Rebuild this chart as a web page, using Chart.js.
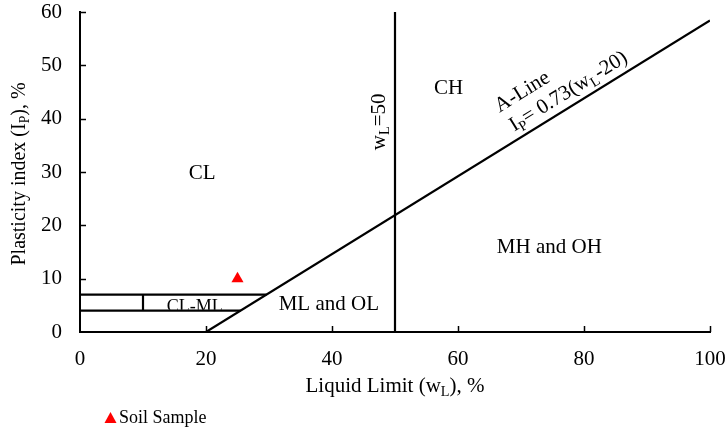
<!DOCTYPE html>
<html>
<head>
<meta charset="utf-8">
<script src="https://cdn.jsdelivr.net/npm/chart.js@4.4.1/dist/chart.umd.min.js"></script>
<style>
  html, body { margin: 0; padding: 0; background: #fff; }
</style>
</head>
<body>
<canvas id="myChart" width="725" height="429"></canvas>
<script>
// plasticity chart data
const aLineX = [20, 100];
const aLineY = [0, 58.4];
const wl50X = [50, 50];
const wl50Y = [0, 60];
const clmlTopX = [0, 29.6];
const clmlTopY = [7, 7];
const clmlBottomX = [0, 25.5];
const clmlBottomY = [4, 4];
const clmlDivX = [10, 10];
const clmlDivY = [4, 7];
const sampleLL = [25];
const samplePI = [10];
const xTickValues = [0, 20, 40, 60, 80, 100];
const yTickValues = [0, 10, 20, 30, 40, 50, 60];

const FONT = '"Liberation Serif", "Times New Roman", serif';

function pts(xs, ys) {
    return xs.map((x, i) => ({ x: x, y: ys[i] }));
}

function lineSet(label, xs, ys) {
    return {
        label: label,
        data: pts(xs, ys),
        showLine: true,
        borderColor: '#000',
        borderWidth: 2.2,
        pointRadius: 0,
        fill: false
    };
}

// text with subscripts: parts = [[text, isSub], ...]
function drawRich(ctx, parts, x, y, size, angle) {
    ctx.save();
    ctx.translate(x, y);
    ctx.rotate(angle || 0);
    let w = 0;
    parts.forEach(p => {
        ctx.font = (p[1] ? size * 0.68 : size) + 'px ' + FONT;
        w += ctx.measureText(p[0]).width;
    });
    let cx = -w / 2;
    ctx.fillStyle = '#000';
    ctx.textBaseline = 'alphabetic';
    ctx.textAlign = 'left';
    parts.forEach(p => {
        ctx.font = (p[1] ? size * 0.68 : size) + 'px ' + FONT;
        ctx.fillText(p[0], cx, p[1] ? size * 0.2 : 0);
        cx += ctx.measureText(p[0]).width;
    });
    ctx.restore();
}

// zone labels, placed in data units (baseline centre)
const zoneLabels = [
    { parts: [['CL', 0]], x: 19.4, y: 28.6, size: 21 },
    { parts: [['CH', 0]], x: 58.5, y: 44.6, size: 21 },
    { parts: [['MH and OH', 0]], x: 74.5, y: 14.9, size: 21 },
    { parts: [['ML and OL', 0]], x: 39.5, y: 4.2, size: 21 },
    { parts: [['CL-ML', 0]], x: 18.2, y: 3.8, size: 18, clipTo: 4 },
    { parts: [['w', 0], ['L', 1], ['=50', 0]], x: 48.4, y: 39.4, size: 21, rot: 'vertical' },
    { parts: [['A-Line', 0]], x: 70.7, y: 44.1, size: 21, rot: 'aline' },
    { parts: [['I', 0], ['P', 1], ['= 0.73(w', 0], ['L', 1], ['-20)', 0]], x: 78.0, y: 44.2, size: 21, rot: 'aline' }
];

const annotate = {
    id: 'annotate',
    afterDraw(chart) {
        const ctx = chart.ctx;
        const xs = chart.scales.x;
        const ys = chart.scales.y;
        const area = chart.chartArea;

        // inward tick marks
        ctx.save();
        ctx.strokeStyle = '#000';
        ctx.lineWidth = 1.5;
        xTickValues.forEach(v => {
            if (v === xs.min) return;
            const px = Math.round(xs.getPixelForValue(v)) + 0.5;
            ctx.beginPath();
            ctx.moveTo(px, area.bottom);
            ctx.lineTo(px, area.bottom - 6);
            ctx.stroke();
        });
        yTickValues.forEach(v => {
            if (v === ys.min) return;
            const py = Math.round(ys.getPixelForValue(v)) + 0.5;
            ctx.beginPath();
            ctx.moveTo(area.left, py);
            ctx.lineTo(area.left + 6, py);
            ctx.stroke();
        });
        ctx.restore();

        const slope = Math.atan2(
            ys.getPixelForValue(aLineY[1]) - ys.getPixelForValue(aLineY[0]),
            xs.getPixelForValue(aLineX[1]) - xs.getPixelForValue(aLineX[0])
        );

        zoneLabels.forEach(l => {
            let ang = 0;
            if (l.rot === 'vertical') ang = -Math.PI / 2;
            if (l.rot === 'aline') ang = slope;
            ctx.save();
            if (l.clipTo !== undefined) {
                const cy = ys.getPixelForValue(l.clipTo) - 1;
                ctx.beginPath();
                ctx.rect(area.left, area.top, area.right - area.left, cy - area.top);
                ctx.clip();
            }
            drawRich(ctx, l.parts, xs.getPixelForValue(l.x), ys.getPixelForValue(l.y), l.size, ang);
            ctx.restore();
        });

        // axis titles
        drawRich(ctx, [['Liquid Limit (w', 0], ['L', 1], ['), %', 0]],
            (area.left + area.right) / 2, 392, 21, 0);
        drawRich(ctx, [['Plasticity index (I', 0], ['P', 1], ['), %', 0]],
            25, 174, 20, -Math.PI / 2);

        // legend
        const ds = chart.data.datasets[5];
        ctx.save();
        ctx.fillStyle = ds.backgroundColor;
        ctx.beginPath();
        ctx.moveTo(110.5, 412);
        ctx.lineTo(116.5, 423);
        ctx.lineTo(104.5, 423);
        ctx.closePath();
        ctx.fill();
        ctx.fillStyle = '#000';
        ctx.font = '18px ' + FONT;
        ctx.textBaseline = 'alphabetic';
        ctx.fillText(ds.label, 119, 423);
        ctx.restore();
    }
};

const ctx = document.getElementById('myChart').getContext('2d');

const myChart = new Chart(ctx, {
    type: 'scatter',
    data: {
        datasets: [
            lineSet('A-Line', aLineX, aLineY),
            lineSet('wL=50', wl50X, wl50Y),
            lineSet('CL-ML top', clmlTopX, clmlTopY),
            lineSet('CL-ML bottom', clmlBottomX, clmlBottomY),
            lineSet('CL-ML divider', clmlDivX, clmlDivY),
            {
                label: 'Soil Sample',
                data: pts(sampleLL, samplePI),
                pointStyle: 'triangle',
                pointRadius: 7,
                backgroundColor: '#ff0000',
                borderColor: '#ff0000',
                borderWidth: 0,
                showLine: false
            }
        ]
    },
    options: {
        responsive: false,
        animation: false,
        layout: { padding: { top: 12, right: 15, left: 0, bottom: 0 } },
        plugins: {
            legend: { display: false },
            tooltip: { enabled: false }
        },
        scales: {
            x: {
                type: 'linear',
                min: 0,
                max: 100,
                afterBuildTicks: (s) => { s.ticks = xTickValues.map(v => ({ value: v })); },
                afterFit: (s) => {
                    s.height = 97;
                    s.paddingLeft = 0;
                    s.paddingRight = 0;
                },
                grid: { display: false, drawTicks: false },
                border: { display: true, color: '#000', width: 2 },
                ticks: {
                    color: '#000',
                    font: { family: FONT, size: 21 },
                    padding: 15,
                    maxRotation: 0,
                    autoSkip: false
                }
            },
            y: {
                type: 'linear',
                min: 0,
                max: 60,
                afterBuildTicks: (s) => { s.ticks = yTickValues.map(v => ({ value: v })); },
                afterFit: (s) => {
                    s.width = 80;
                    s.paddingTop = 0;
                    s.paddingBottom = 0;
                },
                grid: { display: false, drawTicks: false },
                border: { display: true, color: '#000', width: 2 },
                ticks: {
                    color: '#000',
                    font: { family: FONT, size: 21 },
                    padding: 18,
                    autoSkip: false
                }
            }
        }
    },
    plugins: [annotate]
});
</script>
</body>
</html>
